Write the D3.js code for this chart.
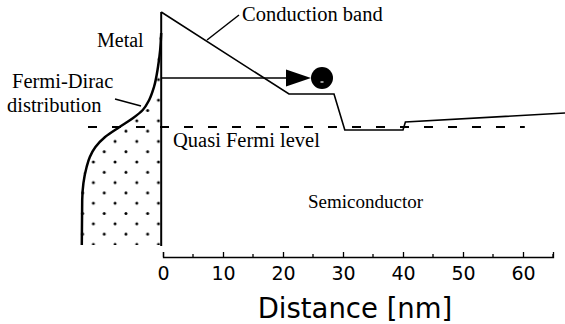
<!DOCTYPE html>
<html><head><meta charset="utf-8">
<script src="https://cdn.jsdelivr.net/npm/d3@7"></script>
<style>
html,body{margin:0;padding:0;background:#fff;}
svg{display:block;}
.serif{font-family:"Liberation Serif","Times New Roman",serif;fill:#000;}
</style></head>
<body>
<svg id="chart" width="565" height="324"></svg>
<script>
// ---- data ----
// conduction band: [distance nm, energy (arb. eV, 0 = quasi Fermi level)]
const bandDistance = [-0.3, 21, 28.5, 30.3, 40, 40.4, 67];
const bandEnergy   = [1.15, 0.33, 0.33, -0.03, -0.03, 0.05, 0.14];
// Fermi-Dirac distribution in metal: energy vs occupancy
const fdEnergy    = [-1.18, -0.73, -0.40, -0.30, -0.20, -0.10, 0.0, 0.09, 0.17, 0.27, 0.40, 0.60, 0.77, 0.94];
const fdOccupancy = [0.99, 0.985, 0.93, 0.89, 0.82, 0.70, 0.52, 0.35, 0.23, 0.15, 0.09, 0.04, 0.013, 0.0];
const xTicks = [0, 10, 20, 30, 40, 50, 60];
const xMinorTicks = [5, 15, 25, 35, 45, 55, 65];
const fermiLevel = 0;
const electronEnergy = 0.49;
const electronDistance = 26.5;
const metalEdge = -0.3;
const metalBottom = -1.18;

const svg = d3.select("#chart");
const x = d3.scaleLinear().domain([0, 65]).range([163, 553]);
const y = d3.scaleLinear().domain([-1.2, 1.2]).range([247, 7]);
const occ = d3.scaleLinear().domain([0, 1]).range([x(metalEdge), 81]);

// dot pattern
const defs = svg.append("defs");
const pat = defs.append("pattern").attr("id","dots").attr("patternUnits","userSpaceOnUse")
  .attr("x", 158.5).attr("y", 162).attr("width", 21.7).attr("height", 20.6);
[[0,0],[21.7,0],[0,20.6],[21.7,20.6],[10.85,10.3]].forEach(p =>
  pat.append("circle").attr("cx",p[0]).attr("cy",p[1]).attr("r",1.5).attr("fill","#000"));

const fd = fdEnergy.map((e,i)=>({e, f: fdOccupancy[i]}));
const band = bandDistance.map((d,i)=>({d, e: bandEnergy[i]}));

// filled occupied states
svg.append("path").datum(fd)
  .attr("d", d3.area().curve(d3.curveMonotoneY).y(d=>y(d.e)).x0(x(metalEdge)+1.5).x1(d=>occ(d.f)-1.5))
  .attr("fill","url(#dots)");

// quasi Fermi level
svg.append("line").attr("x1", x(-12.5)).attr("x2", x(60.3)).attr("y1", y(fermiLevel)).attr("y2", y(fermiLevel))
  .attr("stroke","#000").attr("stroke-width",2).attr("stroke-dasharray","9,15");

// metal boundary line
svg.append("line").attr("x1", x(metalEdge)).attr("x2", x(metalEdge)).attr("y1", y(bandEnergy[0])).attr("y2", y(metalBottom)+1)
  .attr("stroke","#000").attr("stroke-width",2);

// Fermi-Dirac curve
svg.append("path").datum(fd)
  .attr("d", d3.line().curve(d3.curveMonotoneY).y(d=>y(d.e)).x(d=>occ(d.f)))
  .attr("fill","none").attr("stroke","#000").attr("stroke-width",2.5);

// conduction band
svg.append("path").datum(band)
  .attr("d", d3.line().x(d=>x(d.d)).y(d=>y(d.e)))
  .attr("fill","none").attr("stroke","#000").attr("stroke-width",1.6).attr("stroke-linejoin","miter");

// electron arrow
const ay = y(electronEnergy);
const tipX = x(electronDistance) - 11;
svg.append("line").attr("x1", x(metalEdge)).attr("x2", tipX - 20).attr("y1", ay).attr("y2", ay)
  .attr("stroke","#000").attr("stroke-width",1.6);
svg.append("path").attr("d", `M${tipX-25},${ay-8.5}L${tipX},${ay}L${tipX-25},${ay+8.5}Z`).attr("fill","#000");
svg.append("circle").attr("cx", x(electronDistance)).attr("cy", ay).attr("r", 11).attr("fill","#000");
svg.append("line").attr("x1", x(electronDistance)-1.5).attr("x2", x(electronDistance)+1.5)
  .attr("y1", ay+4).attr("y2", ay+4).attr("stroke","#fff").attr("stroke-width",1.2);

// labels
const lbl = (t, px, py, size) => svg.append("text").attr("class","serif").attr("x",px).attr("y",py)
  .attr("font-size", size).text(t);
lbl("Metal", 97, 47, 20);
lbl("Fermi-Dirac", 12, 88, 20.5);
lbl("distribution", 7, 112, 20.5);
lbl("Conduction band", 242, 21, 20.5);
lbl("Quasi Fermi level", 173, 147, 20.5);
lbl("Semiconductor", 308, 208, 19);
// leader lines
svg.append("line").attr("x1",115).attr("y1",99).attr("x2",141).attr("y2",106).attr("stroke","#000").attr("stroke-width",1.5);
svg.append("line").attr("x1",239).attr("y1",15).attr("x2",207).attr("y2",40).attr("stroke","#000").attr("stroke-width",1.5);

// x axis
const axisY = 257;
const gx = svg.append("g").attr("transform",`translate(0,${axisY})`)
  .call(d3.axisBottom(x).tickValues(xTicks).tickSizeInner(-5).tickSizeOuter(-5).tickPadding(10).tickFormat(d3.format("d")));
gx.selectAll("text").attr("font-family","DejaVu Sans, sans-serif").attr("font-size",19).attr("fill","#000");
gx.selectAll("line,path").attr("stroke","#000").attr("stroke-width",1.3);
gx.selectAll(".minor").data(xMinorTicks).enter().append("line").attr("class","minor")
  .attr("x1",d=>x(d)).attr("x2",d=>x(d)).attr("y1",0).attr("y2",-3).attr("stroke","#000").attr("stroke-width",1.3);

svg.append("text").attr("x", 355).attr("y", 318).attr("text-anchor","middle")
  .attr("font-family","DejaVu Sans, sans-serif").attr("font-size",27.5).attr("fill","#000").text("Distance [nm]");
</script>
</body></html>
